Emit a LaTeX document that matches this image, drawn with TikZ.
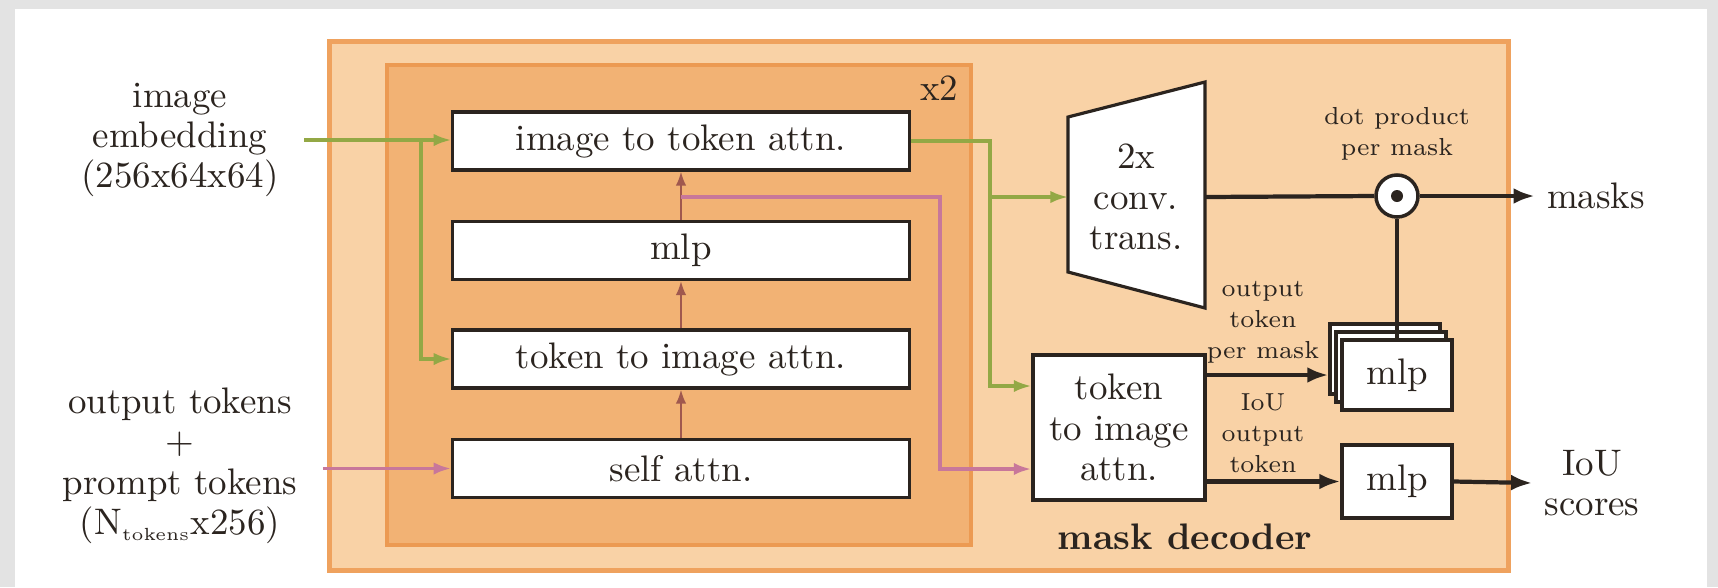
\documentclass[tikz,border=0pt]{standalone}
\usepackage{tikz}
\usetikzlibrary{calc}
\usetikzlibrary{positioning}
\usetikzlibrary{arrows.meta}
\definecolor{decline}{HTML}{EFA25E}
\definecolor{decfill}{HTML}{F9D2A6}
\definecolor{repline}{HTML}{EC9A52}
\definecolor{repfill}{HTML}{F2B274}
\definecolor{grn}{HTML}{93A845}
\definecolor{pnk}{HTML}{C8779A}
\definecolor{brn}{HTML}{A0584E}
\definecolor{ink}{HTML}{2B241F}
\definecolor{frame}{HTML}{E3E3E3}

\begin{document}
\begin{tikzpicture}[x=0.01cm,y=-0.01cm,
    font=\fontsize{10.5}{11.5}\selectfont, text=ink,
    blk/.style={draw=ink,line width=0.9pt,fill=white,minimum width=4.56cm,minimum height=0.58cm,inner sep=0pt},
    sbox/.style={draw=ink,line width=0.9pt,fill=white,minimum width=1.1cm,minimum height=0.7cm,inner sep=0pt},
    small/.style={font=\fontsize{7}{8.8}\selectfont,align=center},
    lbl/.style={align=center,inner xsep=0.25cm},
    gline/.style={draw=grn,line width=0.9pt},
    garr/.style={gline,-{Latex[length=5pt,width=3.5pt]}},
    parr/.style={draw=pnk,line width=1.1pt,-{Latex[length=5pt,width=3.5pt]}},
    tarr/.style={draw=brn,line width=0.6pt,-{Latex[length=4pt,width=3pt]}},
    dline/.style={draw=ink,line width=1.2pt},
    darr/.style={dline,-{Latex[length=6pt,width=4.5pt]}}]

    \fill[frame] (0,0) rectangle (1718,587);
    \fill[white] (15,9) rectangle (1707,587);

    \node[draw=decline,fill=decfill,line width=1.4pt,minimum width=11.78cm,minimum height=5.28cm] (dec) at (919,306) {};
    \node[draw=repline,fill=repfill,line width=1pt,minimum width=5.84cm,minimum height=4.8cm] (rep) at (679,305) {};
    \node (x2) at (939,88) {x2};
    \node[font=\fontsize{10.5}{11.5}\selectfont\bfseries] (declbl) at (1185,537) {mask decoder};

    \node[blk] (ita) at (681,141) {image to token attn.};
    \node[blk] (mlpa) at (681,250.5) {mlp};
    \node[blk] (tti) at (681,359) {token to image attn.};
    \node[blk] (self) at (681,468.5) {self attn.};

    \node[lbl] (emb) at (180,140) {image\\embedding\\(256x64x64)};
    \node[lbl] (tok) at (180,466) {output tokens\\+\\prompt tokens\\(N\textsubscript{\fontsize{5}{5}\selectfont tokens}x256)};

    \coordinate (tl) at (1068,117);
    \coordinate (tr) at (1205,82);
    \coordinate (br) at (1205,308);
    \coordinate (bl) at (1068,272);
    \draw[draw=ink,line width=0.9pt,fill=white] (tl) -- (tr) -- (br) -- (bl) -- cycle;
    \node[align=center] (conv) at (1136,197) {2x\\conv.\\trans.};
    \coordinate (convin) at (1068,197);
    \coordinate (convout) at (1205,197);

    \node[draw=ink,line width=0.9pt,fill=white,minimum width=1.72cm,minimum height=1.45cm,align=center] (tokR) at (1119,427.5) {token\\to image\\attn.};
    \coordinate (tokRg) at ($(tokR.north west)!0.22!(tokR.south west)$);
    \coordinate (tokRp) at ($(tokR.north west)!0.78!(tokR.south west)$);

    \node[circle,draw=ink,line width=1pt,fill=white,minimum size=0.42cm,inner sep=0pt] (dot) at (1397,196) {};
    \fill[ink] (dot) circle (0.06cm);
    \node[small] (dp) at (1397,134) {dot product\\per mask};

    \node[sbox] (mlpb2) at (1385,359) {};
    \node[sbox] (mlpb1) at (1391,367) {};
    \node[sbox] (mlps) at (1397,375) {mlp};
    \node[sbox,minimum height=0.73cm] (mlpi) at (1397,481.5) {mlp};

    \node[small] (otk) at (1263,322) {output\\token\\per mask};
    \node[small] (iot) at (1263,433) {IoU\\output\\token};

    \node (masks) at (1596,196) {masks};
    \node[align=center] (iou) at (1592,483) {IoU\\scores};

    \coordinate (gsplit) at (421,140);
    \coordinate (gout) at (990,140);
    \coordinate (pturn) at (940,197);

    \draw[garr] (emb.east) -- (emb.east -| ita.west);
    \draw[garr] (gsplit) |- (tti.west);
    \draw[garr] (ita.east) -| (gout |- tokRg) -- (tokRg);
    \draw[garr] (gout |- convin) -- (convin);

    \draw[parr] (tok.east |- self.west) -- (self.west);
    \draw[tarr] (self.north) -- (tti.south);
    \draw[tarr] (tti.north) -- (mlpa.south);
    \draw[tarr] (mlpa.north) -- (ita.south);
    \draw[parr] (mlpa.north |- pturn) -- (pturn) |- (tokRp);

    \draw[dline] (convout) -- (dot.west);
    \draw[darr] (dot.east) -- (masks.west);
    \draw[dline] (dot.south) -- (mlps.north);
    \draw[darr] (tokR.east |- mlps) -- (mlpb2.west |- mlps);
    \draw[darr] (tokR.east |- mlpi) -- (mlpi.west);
    \draw[darr] (mlpi.east) -- (iou.west);

\end{tikzpicture}
\end{document}
